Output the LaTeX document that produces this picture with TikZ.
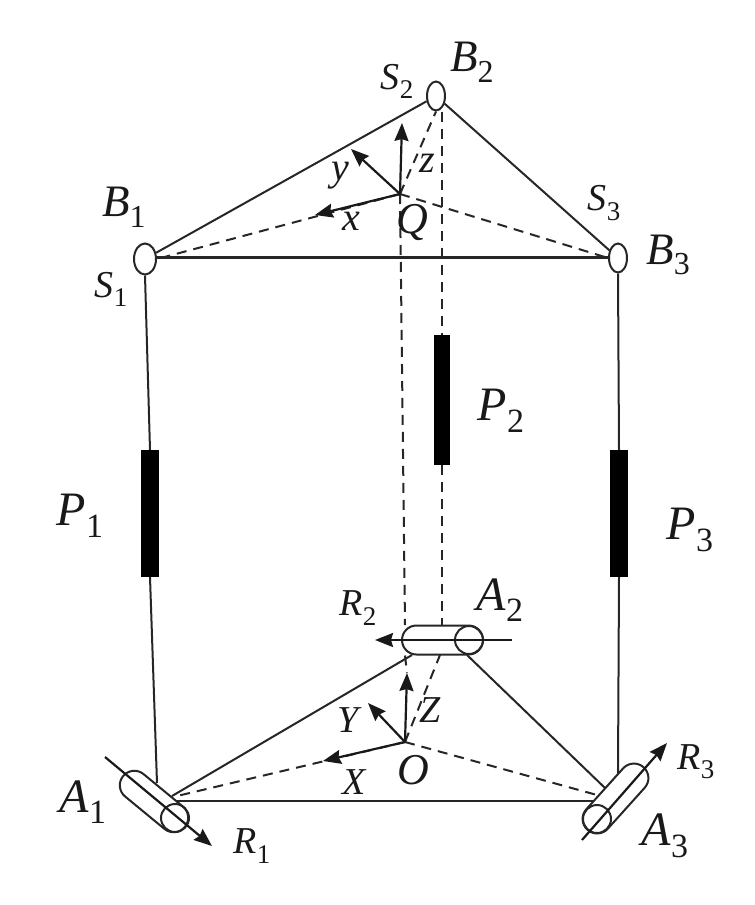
\documentclass[tikz,border=0pt]{standalone}
\usepackage{fontspec}
\setmainfont{Liberation Serif}
\usetikzlibrary{arrows.meta,shapes.misc,shapes.geometric}
\newcommand{\lab}[3]{{\fontsize{#1}{#1}\selectfont\textit{#2}\raisebox{-0.24em}{\fontsize{\numexpr#1*7/10\relax}{#1}\selectfont #3}}}
\newcommand{\ax}[2]{{\fontsize{#1}{#1}\selectfont\textit{#2}}}
\tikzset{
  x=1pt,y=-1pt,
  solidline/.style={line width=2pt,draw=black!85},
  dashline/.style={line width=2pt,draw=black!85,dash pattern=on 10pt off 7pt},
  axisline/.style={line width=2.2pt,draw=black!90,-{Stealth[length=18pt,width=14pt,inset=2pt]}},
  jointnode/.style={ellipse,draw=black!85,line width=2pt,fill=white,inner sep=0pt},
  prismnode/.style={rectangle,fill=black,draw=none,inner sep=0pt,minimum width=18pt},
  capsule/.style={rounded rectangle,draw=black!85,line width=2pt,inner sep=0pt,minimum height=29pt},
  rimnode/.style={circle,draw=black!85,line width=2pt,inner sep=0pt,minimum size=28pt},
  txt/.style={inner sep=0pt,text=black!90},
}
\begin{document}
\begin{tikzpicture}
\useasboundingbox (0,0) rectangle (755,905);
% joints
\node[jointnode,minimum width=22pt,minimum height=31pt] (B1) at (145,259) {};
\node[jointnode,minimum width=18pt,minimum height=29pt] (B2) at (436,96) {};
\node[jointnode,minimum width=18pt,minimum height=29pt] (B3) at (618,258) {};
% centres
\coordinate (Q) at (400,194);
\coordinate (O) at (405,742);
\coordinate (xtip) at (315,215);
\coordinate (ytip) at (351,149);
\coordinate (ztip) at (402,123);
\coordinate (Xtip) at (323,761);
\coordinate (Ytip) at (368,703);
\coordinate (Ztip) at (407,673);
% prisms
\node[prismnode,minimum height=127pt] (P1) at (150,513.5) {};
\node[prismnode,minimum width=16pt,minimum height=130pt] (P2) at (442,400) {};
\node[prismnode,minimum height=127pt] (P3) at (619,513.5) {};
% cylinders
\node[capsule,minimum width=81pt] (A2cap) at (442.5,640) {};
\node[rimnode] (A2rim) at (469,640) {};
\node[capsule,minimum width=80pt,rotate=-39.5] (A1cap) at (154,801.5) {};
\node[rimnode] (A1rim) at (175,818) {};
\node[capsule,minimum width=84pt,rotate=48] (A3cap) at (615.5,798.5) {};
\node[rimnode] (A3rim) at (597,819) {};
% attachment points
\coordinate (A1a) at (172,796);
\coordinate (A1b) at (177,801);
\coordinate (A1c) at (177,796);
\coordinate (A1d) at (157,783);
\coordinate (A2a) at (412,655);
\coordinate (A2b) at (467,655);
\coordinate (A2c) at (440,655);
\coordinate (A2d) at (441,625);
\coordinate (A2e) at (405,625);
\coordinate (A3a) at (605,788);
\coordinate (A3b) at (593,801);
\coordinate (A3c) at (597,795);
\coordinate (A3d) at (618,773);
\coordinate (R1s) at (105,757);
\coordinate (R1t) at (212,846);
\coordinate (R2s) at (512,640);
\coordinate (R2t) at (375,640);
\coordinate (R3s) at (582,840);
\coordinate (R3t) at (667,743);
% top triangle
\draw[solidline] (B1) -- (B2);
\draw[solidline] (B2) -- (B3);
\draw[solidline,line width=2.4pt] ([yshift=1.5pt]B1.east) -- ([yshift=0.5pt]B3.west);
% bottom triangle
\draw[solidline] (A1a) -- (A2a);
\draw[solidline] (A2b) -- (A3a);
\draw[solidline,line width=2.6pt] (A1b) -- (A3b);
% legs
\draw[solidline] (B1.south) -- (P1.north);
\draw[solidline] (P1.south) -- (A1d);
\draw[solidline] (B3.south) -- (P3.north);
\draw[solidline] (P3.south) -- (A3d);
\draw[dashline] (B2.south -| P2.north) -- (P2.north);
\draw[dashline] (P2.south) -- (A2d -| P2.south);
% dashed frames
\draw[dashline] (Q) -- (B1.east);
\draw[dashline] (Q) -- (B3.west);
\draw[dashline] (Q) -- (B2.south);
\draw[dashline] (Q) -- (A2e);
\draw[dashline] (A2cap.south west -| A2e) -- (Ztip);
\draw[dashline] (O) -- (A1c);
\draw[dashline] (O) -- (A3c);
\draw[dashline] (O) -- (A2c);
% axes
\draw[axisline] (Q) -- (xtip);
\draw[axisline] (Q) -- (ytip);
\draw[axisline] (Q) -- (ztip);
\draw[axisline] (O) -- (Xtip);
\draw[axisline] (O) -- (Ytip);
\draw[axisline] (O) -- (Ztip);
\draw[axisline] (R1s) -- (R1t);
\draw[axisline] (R2s) -- (R2t);
\draw[axisline] (R3s) -- (R3t);
% labels
\node[txt] (tB1) at (124,207) {\lab{45}{B}{1}};
\node[txt] (tB2) at (472,62) {\lab{45}{B}{2}};
\node[txt] (tB3) at (668,255) {\lab{45}{B}{3}};
\node[txt] (tS1) at (111,289) {\lab{38}{S}{1}};
\node[txt] (tS2) at (397,81) {\lab{38}{S}{2}};
\node[txt] (tS3) at (604,203) {\lab{38}{S}{3}};
\node[txt] (tP1) at (80,516) {\lab{48}{P}{1}};
\node[txt] (tP2) at (501,411) {\lab{48}{P}{2}};
\node[txt] (tP3) at (690,530) {\lab{48}{P}{3}};
\node[txt] (tA1) at (83,802) {\lab{48}{A}{1}};
\node[txt] (tA2) at (500,600) {\lab{48}{A}{2}};
\node[txt] (tA3) at (665,836) {\lab{48}{A}{3}};
\node[txt] (tR1) at (252,846) {\lab{38}{R}{1}};
\node[txt] (tR2) at (358,608) {\lab{38}{R}{2}};
\node[txt] (tR3) at (696,762) {\lab{38}{R}{3}};
\node[txt] (tx) at (351,221) {\ax{40}{x}};
\node[txt] (ty) at (340,176) {\ax{40}{y}};
\node[txt] (tz) at (427,163) {\ax{40}{z}};
\node[txt] (tQ) at (412,222) {\ax{44}{Q}};
\node[txt] (tX) at (355,782) {\ax{38}{X}};
\node[txt] (tY) at (350,720) {\ax{38}{Y}};
\node[txt] (tZ) at (430,710) {\ax{38}{Z}};
\node[txt] (tO) at (413,770) {\ax{44}{O}};
\end{tikzpicture}
\end{document}
